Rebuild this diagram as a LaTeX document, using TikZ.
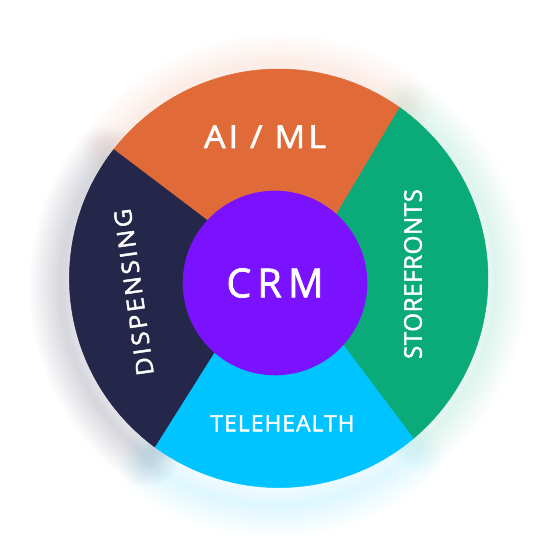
\documentclass[tikz,border=0pt]{standalone}
\usepackage{fontspec}
\setmainfont{Open Sans}
\usepackage{graphicx}
\definecolor{aiorange}{RGB}{224,107,56}
\definecolor{dispnavy}{RGB}{36,38,74}
\definecolor{storegreen}{RGB}{11,170,121}
\definecolor{telecyan}{RGB}{0,196,255}
\definecolor{crmpurple}{RGB}{123,18,255}
\newcommand\fitlbl[4]{\resizebox{#1}{\height}{\fontsize{#2}{#2}\selectfont\addfontfeatures{LetterSpace=#3,FakeBold=1.8}#4}}
\newcommand\glowwedge[5]{%
  \foreach \w in {64,60,...,4}{%
    \path[draw=#1, line join=round, opacity=#5, line width=\w pt, shift={#2}]
      (278.7pt,278.7pt) -- ([shift={(278.7pt,278.7pt)}]#3:209.3pt)
      arc[start angle=#3, end angle=#4, radius=209.3pt] -- cycle;
  }}
\begin{document}
\begin{tikzpicture}[x=1pt,y=1pt,
  lbl/.style={text=white, inner sep=0pt},
  seg/.style={fill=#1, draw=#1, line width=0.5pt, line join=round}]
\useasboundingbox (0,0) rectangle (557,557);
% soft glows
\glowwedge{aiorange}{(0pt,4pt)}{54.65}{142.05}{0.007}
\glowwedge{storegreen}{(8pt,-2pt)}{-49.75}{54.65}{0.009}
\glowwedge{dispnavy}{(-8pt,-8pt)}{142.05}{233.86}{0.01}
\glowwedge{telecyan}{(-4pt,-18pt)}{233.86}{310.25}{0.008}
% geometry
\coordinate (O) at (278.7,278.7);
\coordinate (I) at (275,274);
\coordinate (PAS) at ([shift={(278.7pt,278.7pt)}]54.65:209.3pt);
\coordinate (PAD) at ([shift={(278.7pt,278.7pt)}]142.05:209.3pt);
\coordinate (PDT) at ([shift={(278.7pt,278.7pt)}]233.86:209.3pt);
\coordinate (PST) at ([shift={(278.7pt,278.7pt)}]-49.75:209.3pt);
\coordinate (QAD) at (234.7,315.8);
\coordinate (QAS) at (318,311.3);
\coordinate (QST) at (323.2,239.7);
\coordinate (QDT) at (231.7,231.1);
% segments
\path[seg=aiorange] (PAS) arc[start angle=54.65, end angle=142.05, radius=209.3pt] -- (QAD) -- (I) -- (QAS) -- cycle;
\path[seg=dispnavy] (PAD) arc[start angle=142.05, end angle=233.86, radius=209.3pt] -- (QDT) -- (I) -- (QAD) -- cycle;
\path[seg=telecyan] (PDT) arc[start angle=233.86, end angle=310.25, radius=209.3pt] -- (QST) -- (I) -- (QDT) -- cycle;
\path[seg=storegreen] (PST) arc[start angle=-49.75, end angle=54.65, radius=209.3pt] -- (QAS) -- (I) -- (QST) -- cycle;
% hub
\node[circle, fill=crmpurple, minimum size=184.6pt, inner sep=0pt, text=white] (hub) at (I) {\fitlbl{97pt}{40}{16}{CRM}};
% labels
\node[lbl, anchor=base] (ai) at (265,409) {\fitlbl{122pt}{31.5}{9}{AI / ML}};
\node[lbl, anchor=base] (tele) at (282.5,125.7) {\fitlbl{144pt}{22.4}{5}{TELEHEALTH}};
\node[lbl, rotate=98] (disp) at (133.8,264.7) {\fitlbl{168pt}{23.8}{10}{DISPENSING}};
\node[lbl, rotate=90] (store) at (413,283) {\fitlbl{170pt}{24.5}{2}{STOREFRONTS}};
\end{tikzpicture}
\end{document}
